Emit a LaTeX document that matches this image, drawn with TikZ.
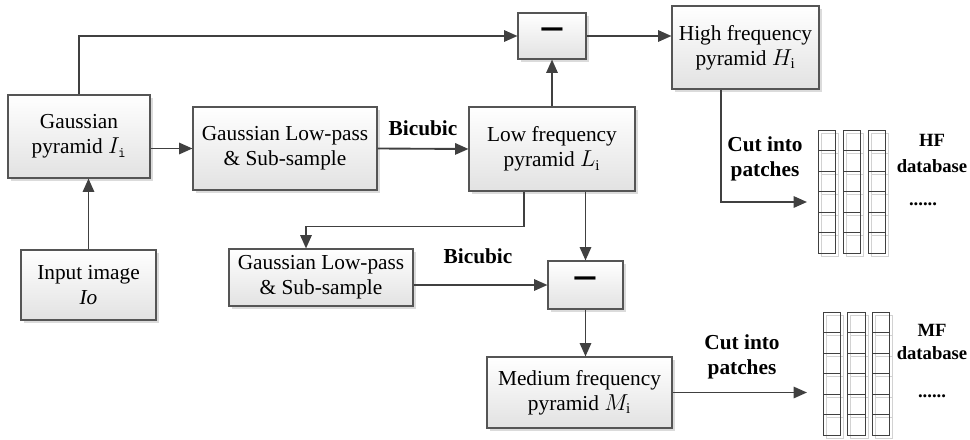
\documentclass[tikz,border=0pt]{standalone}
\usepackage{fontspec}
\setmainfont{Liberation Serif}
\usetikzlibrary{arrows.meta, positioning, calc, shadows}
\definecolor{lineGray}{HTML}{404040}
\definecolor{boxBorder}{HTML}{555555}
\definecolor{boxBottom}{HTML}{E2E2E2}
\definecolor{cellShade}{HTML}{D2D2D2}
\tikzstyle{procbox} = [rectangle, draw=boxBorder, line width=0.8pt,
  top color=white, bottom color=boxBottom,
  drop shadow={shadow xshift=2.2pt, shadow yshift=-2.2pt, fill=gray!35, opacity=0.8},
  inner sep=0pt, align=center, font=\fontsize{16}{18.75}\selectfont]
\tikzstyle{arw} = [-{Triangle[length=10pt,width=8.5pt]}, line width=1.4pt, color=lineGray]
\tikzstyle{lbl} = [font=\fontsize{16}{18.75}\selectfont\bfseries, align=center, inner sep=0pt]
\tikzstyle{dblbl} = [font=\fontsize{14}{17}\selectfont\bfseries, inner sep=0pt]
\tikzstyle{minusbox} = [procbox, font=\fontsize{34}{34}\selectfont\bfseries]

\begin{document}
\begin{tikzpicture}[x=0.75pt, y=-0.75pt]
  \useasboundingbox (0,0) rectangle (970,439);

  % Pyramid and filter boxes
  \node[procbox, minimum width=106.5pt, minimum height=62.25pt] (gp) at (79,136.5) {Gaussian\\pyramid $I_{\mathtt{i}}$};
  \node[procbox, minimum width=101.25pt, minimum height=52.5pt] (inp) at (88.5,285) {Input image\\\textit{Io}};
  \node[procbox, minimum width=138pt, minimum height=62.25pt] (glp1) at (285,148.5) {Gaussian Low-pass\\\& Sub-sample};
  \node[procbox, minimum width=124.5pt, minimum height=63pt] (lf) at (552,149) {Low frequency\\pyramid $L_{\mathrm{i}}$};
  \node[procbox, minimum width=110.25pt, minimum height=62.25pt] (hf) at (745.5,47.5) {High frequency\\pyramid $H_{\mathrm{i}}$};
  \node[procbox, minimum width=138pt, minimum height=42.75pt] (glp2) at (321,277.5) {Gaussian Low-pass\\\& Sub-sample};
  \node[procbox, minimum width=138.75pt, minimum height=53.25pt] (mf) at (579.5,392.5) {Medium frequency\\pyramid $M_{\mathrm{i}}$};

  % Subtraction boxes
  \node[minusbox, minimum width=51pt, minimum height=34.5pt] (m1) at (552,36) {−};
  \node[minusbox, minimum width=56.25pt, minimum height=36pt] (m2) at (585.5,285) {−};

  % Labels
  \node[lbl] (bic1) at (423,128) {Bicubic};
  \node[lbl] (bic2) at (478,256) {Bicubic};
  \node[lbl] (cut1) at (765,158.5) {Cut into\\patches};
  \node[lbl] (cut2) at (742,357) {Cut into\\patches};
  \node[dblbl] (hftag) at (932,140) {HF};
  \node[dblbl] (hfname) at (932,166) {database};
  \node[dblbl] (hfdots) at (923,204) {......};
  \node[dblbl] (mftag) at (932,330) {MF};
  \node[dblbl] (mfname) at (932,353) {database};
  \node[dblbl] (mfdots) at (932,396) {......};

  % Patch databases
  \foreach \c in {0,1,2} {
    \foreach \r in {0,...,5} {
      \draw[cellShade, line width=0.6pt] ({821+25*\c},{133+20.5*\r}) rectangle ++(17.5,20.5);
      \draw[cellShade, line width=0.6pt] ({826+24.5*\c},{315+20.5*\r}) rectangle ++(17.5,20.5);
    }
  }
  \foreach \c in {0,1,2} {
    \foreach \r in {0,...,5} {
      \draw[lineGray, line width=0.7pt] ({818+25*\c},{130+20.5*\r}) rectangle ++(17.5,20.5);
      \draw[lineGray, line width=0.7pt] ({823+24.5*\c},{312+20.5*\r}) rectangle ++(17.5,20.5);
    }
  }
  \coordinate (hfdb) at (807,202);
  \coordinate (mfdb) at (807,392.5);

  % Arrows
  \draw[arw] (inp.north) -- (inp.north |- gp.south);
  \draw[arw] (gp.north) |- (m1.west);
  \draw[arw] (gp.east |- glp1.west) -- (glp1.west);
  \draw[arw] (glp1.east) -- (lf.west);
  \draw[arw] (lf.north) -- (m1.south);
  \draw[arw] (m1.east) -- (m1.east -| hf.west);
  \draw[arw] ([xshift=-18.4pt]hf.south) |- (hfdb);
  \draw[arw] ([xshift=-21pt]lf.south) -- ++(0,35) -| ([xshift=-11.25pt]glp2.north);
  \draw[arw] (m2.north |- lf.south) -- (m2.north);
  \draw[arw] (glp2.east |- m2.west) -- (m2.west);
  \draw[arw] (m2.south) -- (m2.south |- mf.north);
  \draw[arw] (mf.east) -- (mfdb);
\end{tikzpicture}
\end{document}
